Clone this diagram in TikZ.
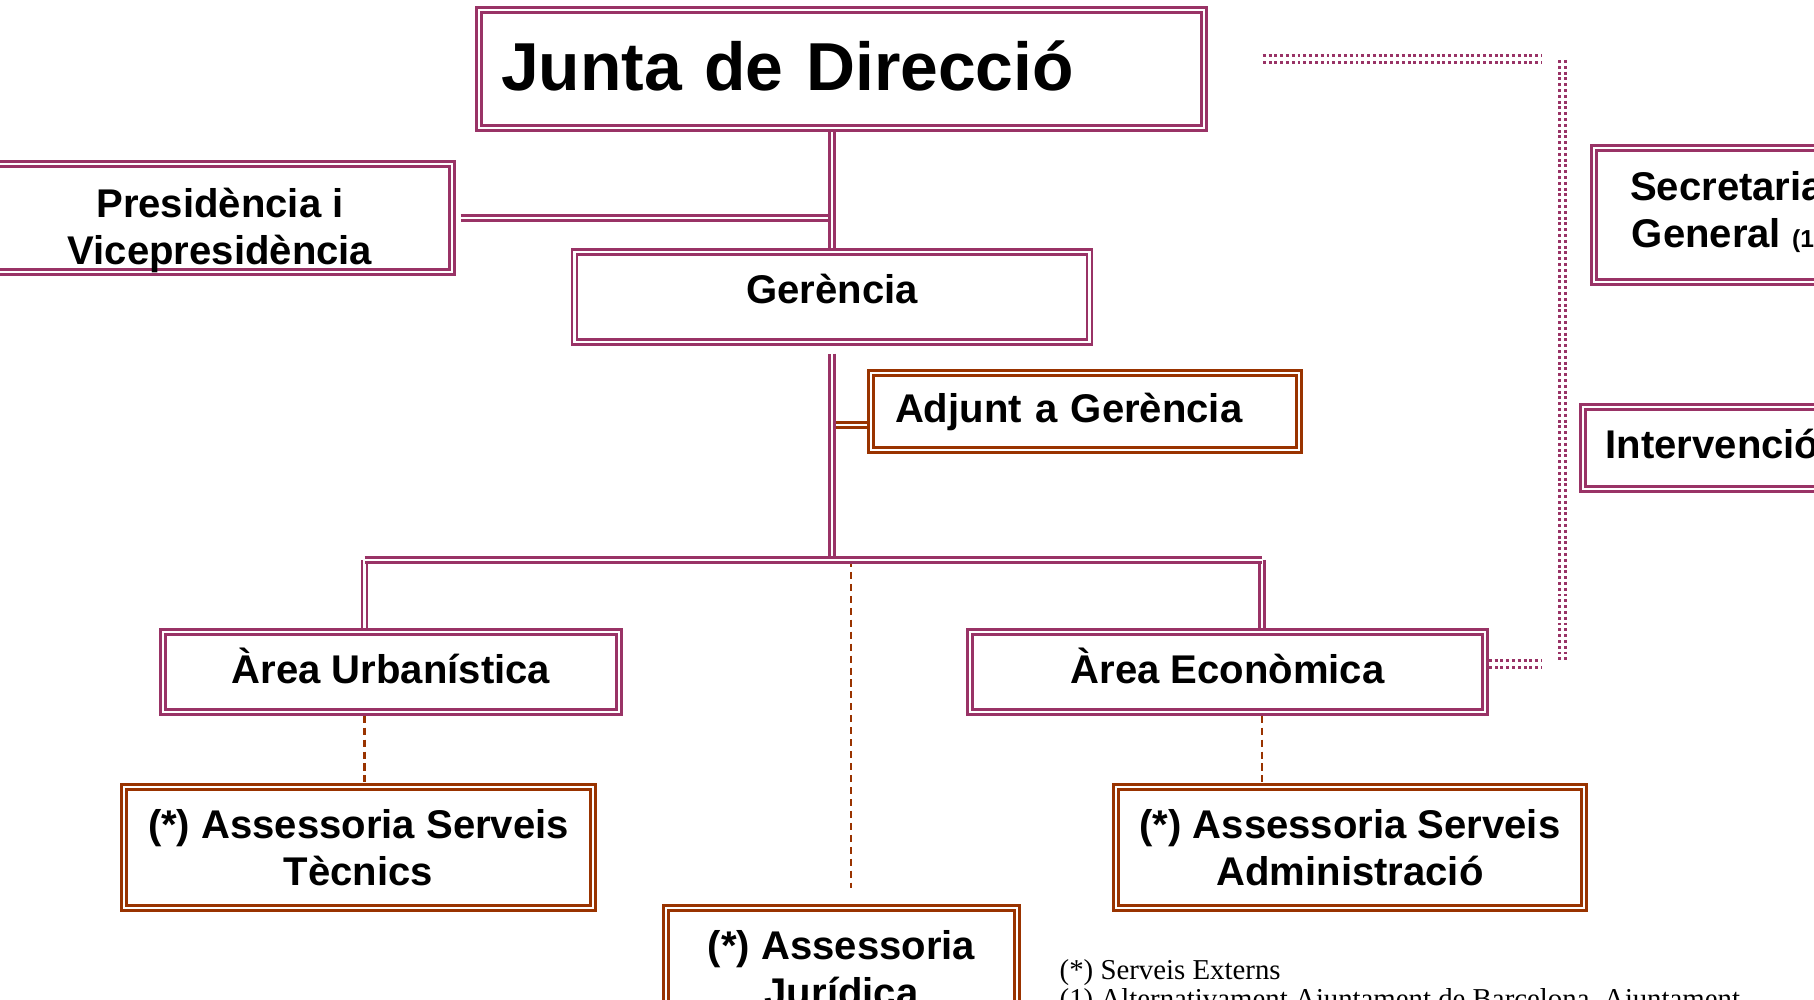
\documentclass[tikz,border=0pt]{standalone}
\usepackage{fontspec}
\setmainfont{Liberation Sans}
\newfontfamily\notefont{Liberation Serif}
\usepackage{tikz}
\usetikzlibrary{positioning}

\definecolor{plum}{HTML}{993366}
\definecolor{rust}{HTML}{993300}

% lift the text of a box without changing its size
\newcommand{\lifttext}[2]{\raisebox{#1}[\height][\depth]{#2}}
\newcommand{\liftlines}[2]{\raisebox{#1}[\height][\depth]{\begin{tabular}{@{}c@{}}#2\end{tabular}}}

\begin{document}
\begin{tikzpicture}
		\tikzstyle{plumbox}=[draw=plum, double, line width=0.75pt, double distance=0.6pt, outer sep=1.05pt, inner sep=0pt, align=center, font=\fontsize{11.4}{13.5}\selectfont\bfseries]
		\tikzstyle{rustbox}=[plumbox, draw=rust]
		\tikzstyle{conn}=[draw=plum, double, line width=0.75pt, double distance=0.7pt]
		\tikzstyle{adconn}=[conn, draw=rust]
		\tikzstyle{extconn}=[draw=rust, line width=0.7pt, dash pattern=on 2pt off 1.4pt]
		\tikzstyle{ctrlconn}=[draw=plum, double, line width=0.85pt, double distance=0.95pt, dash pattern=on 0.85pt off 0.8pt]
		
		\useasboundingbox (0,0) rectangle (18.14,-10);
		\clip (0,0) rectangle (18.14,-10);
		
		% Direction
		\node at (8.415,-0.69) [plumbox, minimum width=7.25cm, minimum height=1.18cm, text width=6.81cm, inner xsep=0.22cm, align=left, font=\fontsize{19.3}{22}\selectfont\bfseries] (junta) {\lifttext{0.035cm}{Junta de Direcció}};
		\node at (2.20,-2.18) [plumbox, minimum width=4.64cm, minimum height=1.08cm] (presid) {\liftlines{-0.135cm}{Presidència i\\Vicepresidència}};
		\node at (8.32,-2.97) [plumbox, minimum width=5.15cm, minimum height=0.90cm] (gerencia) {\lifttext{0.08cm}{Gerència}};
		\node at (10.85,-4.115) [rustbox, minimum width=4.28cm, minimum height=0.77cm, text width=3.80cm, inner xsep=0.24cm, align=left] (adjunt) {Adjunt a Gerència};
		
		% Control
		\node at (17.27,-2.15) [plumbox, minimum width=2.66cm, minimum height=1.34cm] (secretaria) {\liftlines{0.005cm}{Secretaria\\General {\fontsize{7}{8}\selectfont (1)}}};
		\node at (17.125,-4.48) [plumbox, minimum width=2.59cm, minimum height=0.82cm] (intervencio) {\lifttext{0.035cm}{Intervenció}};
		
		% Areas
		\node at (3.91,-6.72) [plumbox, minimum width=4.56cm, minimum height=0.80cm] (urban) {\lifttext{0.06cm}{Àrea Urbanística}};
		\node at (12.275,-6.72) [plumbox, minimum width=5.15cm, minimum height=0.80cm] (econ) {\lifttext{0.06cm}{Àrea Econòmica}};
		
		% External services
		\node at (3.585,-8.475) [rustbox, minimum width=4.69cm, minimum height=1.21cm] (tecnics) {(*) Assessoria Serveis\\Tècnics};
		\node at (13.50,-8.475) [rustbox, minimum width=4.68cm, minimum height=1.21cm] (admin) {(*) Assessoria Serveis\\Administració};
		\node at (8.415,-9.685) [rustbox, minimum width=3.51cm, minimum height=1.21cm] (juridica) {(*) Assessoria\\Jurídica};
		
		% Junta -> Gerencia
		\draw [conn, shorten <=0.05cm] (presid.east) -- (presid.east -| gerencia.north);
		\draw [conn] (gerencia.north) -- (gerencia.north |- junta.south);
		
		% Gerencia -> Areas
		\coordinate (barL) at (3.645,-5.60);
		\coordinate (barR) at (12.62,-5.60);
		\coordinate (barJ) at (8.51,-5.60);
		\coordinate (adjin) at ([yshift=-0.135cm]adjunt.west);
		\draw [adconn] (adjin) -- (adjin -| gerencia.south);
		\draw [conn, shorten <=0.08cm] (gerencia.south) -- (gerencia.south |- barL);
		\draw [conn] (barL) -- (barL |- urban.north);
		\draw [conn] (barR) -- (barR |- econ.north);
		\draw [extconn, shorten >=0.16cm] (barJ) -- (barJ |- juridica.north);
		\draw [conn] (barL) -- (barR);
		
		% Areas -> External services
		\draw [extconn] (barL |- urban.south) -- (barL |- tecnics.north);
		\draw [extconn] (barR |- econ.south) -- (barR |- admin.north);
		
		% Control lines
		\coordinate (ctrlT) at (15.42,-0.59);
		\coordinate (ctrlA) at (15.625,-0.60);
		\coordinate (ctrlB) at (15.625,-6.60);
		\coordinate (ctrlE) at (15.42,-6.64);
		\draw [ctrlconn, shorten <=0.55cm] (junta.east |- ctrlT) -- (ctrlT);
		\draw [ctrlconn] (ctrlA) -- (ctrlB);
		\draw [ctrlconn] (econ.east |- ctrlE) -- (ctrlE);
		
		% Notes
		\node at (10.59,-9.59) [anchor=north west, inner sep=0pt, align=left, font=\notefont\fontsize{8.2}{8.2}\selectfont] (note) {(*) Serveis Externs\\(1) Alternativament Ajuntament de Barcelona, Ajuntament};
		
\end{tikzpicture}
\end{document}
